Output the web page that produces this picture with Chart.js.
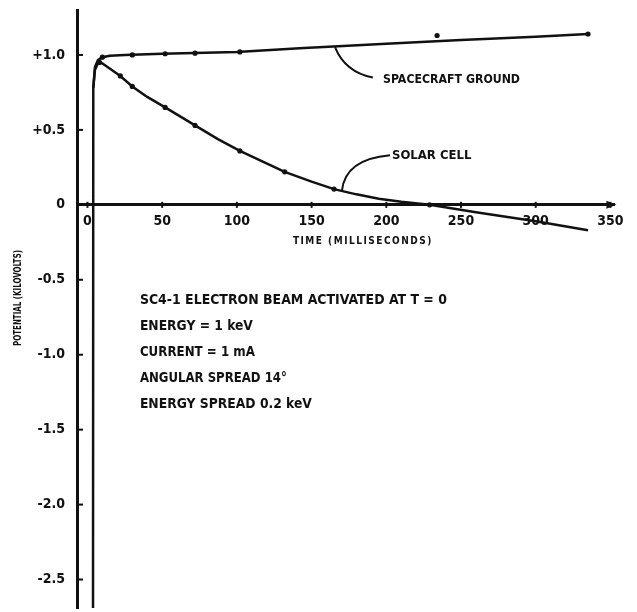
<!DOCTYPE html>
<html>
<head>
<meta charset="utf-8">
<script src="https://cdn.jsdelivr.net/npm/chart.js@4.4.1/dist/chart.umd.min.js"></script>
<style>
html,body{margin:0;padding:0;background:#fff;}
#wrap{width:637px;height:612px;position:relative;}
</style>
</head>
<body>
<div id="wrap"><canvas id="c"></canvas></div>
<script>
// ---- data ----
const xTicks = [0, 50, 100, 150, 200, 250, 300, 350];
const yTicks = [1.0, 0.5, 0, -0.5, -1.0, -1.5, -2.0, -2.5];
const yTickLabels = ['+1.0', '+0.5', '0', '-0.5', '-1.0', '-1.5', '-2.0', '-2.5'];

// solar cell curve (time ms, potential kV)
const solarT = [3.7, 3.9, 5, 7, 9, 12, 17, 22, 30, 40, 52, 62, 72, 87, 102, 117, 132, 150, 165, 180, 195, 210, 229, 260, 300, 335];
const solarV = [-2.9, 0.78, 0.9, 0.945, 0.95, 0.93, 0.895, 0.86, 0.79, 0.72, 0.65, 0.59, 0.53, 0.44, 0.36, 0.29, 0.22, 0.155, 0.105, 0.07, 0.04, 0.02, 0.0, -0.05, -0.11, -0.17];
const solarMarkT = [8, 22, 30, 52, 72, 102, 132, 165, 229];
const solarMarkV = [0.95, 0.86, 0.79, 0.65, 0.53, 0.36, 0.22, 0.105, 0.0];

// spacecraft ground curve
const groundT = [3.9, 5, 7, 10, 15, 25, 50, 100, 142, 200, 250, 300, 335];
const groundV = [0.78, 0.92, 0.965, 0.985, 0.995, 1.0, 1.008, 1.02, 1.045, 1.075, 1.1, 1.122, 1.14];
const groundMarkT = [10, 30, 52, 72, 102, 234, 335];
const groundMarkV = [0.985, 1.0, 1.008, 1.012, 1.02, 1.13, 1.14];

const xTitle = 'TIME (MILLISECONDS)';
const yTitle = 'POTENTIAL (KILOVOLTS)';
const noteLines = [
  'SC4-1 ELECTRON BEAM ACTIVATED AT T = 0',
  'ENERGY = 1 keV',
  'CURRENT = 1 mA',
  'ANGULAR SPREAD 14°',
  'ENERGY SPREAD 0.2 keV'
];
const seriesLabels = ['SPACECRAFT GROUND', 'SOLAR CELL'];

// ---- helpers ----
const zip = (xs, ys) => xs.map((x, i) => ({x, y: ys[i]}));
const FONT = "'DejaVu Sans Condensed', 'Liberation Sans Narrow', 'DejaVu Sans', sans-serif";
const INK = '#111';

const decor = {
  id: 'decor',
  afterDraw(chart) {
    const ctx = chart.ctx;
    const xs = chart.scales.x, ys = chart.scales.y;
    const X = v => xs.getPixelForValue(v), Y = v => ys.getPixelForValue(v);
    const area = chart.chartArea;
    ctx.save();
    ctx.strokeStyle = INK; ctx.fillStyle = INK;
    // inward y tick marks
    ctx.lineWidth = 2;
    yTicks.forEach(v => {
      ctx.beginPath(); ctx.moveTo(area.left, Y(v)); ctx.lineTo(area.left + 6, Y(v)); ctx.stroke();
    });
    // small x tick marks on the axis
    xTicks.forEach(v => {
      ctx.beginPath(); ctx.moveTo(X(v), Y(0) - 3); ctx.lineTo(X(v), Y(0) + 3); ctx.stroke();
    });
    // arrowhead at end of x axis
    const ax = X(350), ay = Y(0);
    ctx.beginPath(); ctx.moveTo(ax + 6, ay); ctx.lineTo(ax - 4, ay - 4); ctx.lineTo(ax - 4, ay + 4); ctx.closePath(); ctx.fill();

    // leader lines
    ctx.lineWidth = 2;
    ctx.beginPath();
    ctx.moveTo(X(165.7), Y(1.053));
    ctx.quadraticCurveTo(X(172.3), Y(0.887), X(191), Y(0.85));
    ctx.stroke();
    ctx.beginPath();
    ctx.moveTo(X(170.3), Y(0.093));
    ctx.quadraticCurveTo(X(172.4), Y(0.305), X(202.5), Y(0.331));
    ctx.stroke();

    // series labels
    ctx.textBaseline = 'middle'; ctx.textAlign = 'left';
    ctx.font = 'bold 13px ' + FONT;
    ctx.fillText(seriesLabels[0], X(197.8), Y(0.834), 137);
    ctx.fillText(seriesLabels[1], X(203.8), Y(0.331), 82);

    // notes block
    const noteV = [-0.636, -0.808, -0.987, -1.159, -1.331];
    const noteW = [307, 113, 115, 147, 172];
    ctx.font = 'bold 14px ' + FONT;
    noteLines.forEach((t, i) => ctx.fillText(t, X(35.1), Y(noteV[i]), noteW[i]));

    // x title
    ctx.textAlign = 'center';
    ctx.font = 'bold 10px ' + FONT;
    if ('letterSpacing' in ctx) ctx.letterSpacing = '1.5px';
    ctx.fillText(xTitle, X(184.3), Y(-0.245), 150);
    if ('letterSpacing' in ctx) ctx.letterSpacing = '0px';

    // y title
    ctx.translate(18, 298);
    ctx.rotate(-Math.PI / 2);
    ctx.font = 'bold 10px ' + FONT;
    ctx.fillText(yTitle, 0, 0, 96);
    ctx.restore();
  }
};

new Chart(document.getElementById('c'), {
  type: 'scatter',
  data: {
    datasets: [
      {label: 'Solar cell', data: zip(solarT, solarV), showLine: true, borderColor: INK, borderWidth: 2.5, pointRadius: 0, tension: 0},
      {label: 'Spacecraft ground', data: zip(groundT, groundV), showLine: true, borderColor: INK, borderWidth: 2.5, pointRadius: 0, tension: 0},
      {label: 'Solar cell points', data: zip(solarMarkT, solarMarkV), showLine: false, pointRadius: 2.6, pointBackgroundColor: INK, pointBorderWidth: 0},
      {label: 'Ground points', data: zip(groundMarkT, groundMarkV), showLine: false, pointRadius: 2.6, pointBackgroundColor: INK, pointBorderWidth: 0}
    ]
  },
  options: {
    responsive: true,
    maintainAspectRatio: false,
    animation: false,
    devicePixelRatio: 1,
    layout: {padding: {top: 10, right: 23, bottom: 0, left: 0}},
    plugins: {legend: {display: false}, tooltip: {enabled: false}},
    scales: {
      x: {
        type: 'linear',
        position: {y: 0},
        min: -7.0, max: 352.4,
        afterBuildTicks: s => { s.ticks = xTicks.map(v => ({value: v})); },
        afterFit: s => { s.height = 0; s.paddingLeft = 0; s.paddingRight = 0; s.paddingTop = 0; s.paddingBottom = 0; },
        grid: {display: false, drawTicks: false},
        border: {display: true, color: INK, width: 3},
        ticks: {color: INK, font: {family: FONT, size: 14, weight: 'bold'}, padding: 8, maxRotation: 0, autoSkip: false}
      },
      y: {
        type: 'linear',
        position: 'left',
        min: -2.69, max: 1.30,
        afterBuildTicks: s => { s.ticks = yTicks.map(v => ({value: v})); },
        afterFit: s => { s.width = 77; s.paddingTop = 0; s.paddingBottom = 0; },
        grid: {display: false, drawTicks: false},
        border: {display: true, color: INK, width: 3},
        ticks: {color: INK, font: {family: FONT, size: 14, weight: 'bold'}, padding: 12, autoSkip: false,
          callback: (v) => { const i = yTicks.indexOf(v); return i >= 0 ? yTickLabels[i] : ''; }}
      }
    }
  },
  plugins: [decor]
});
</script>
</body>
</html>
